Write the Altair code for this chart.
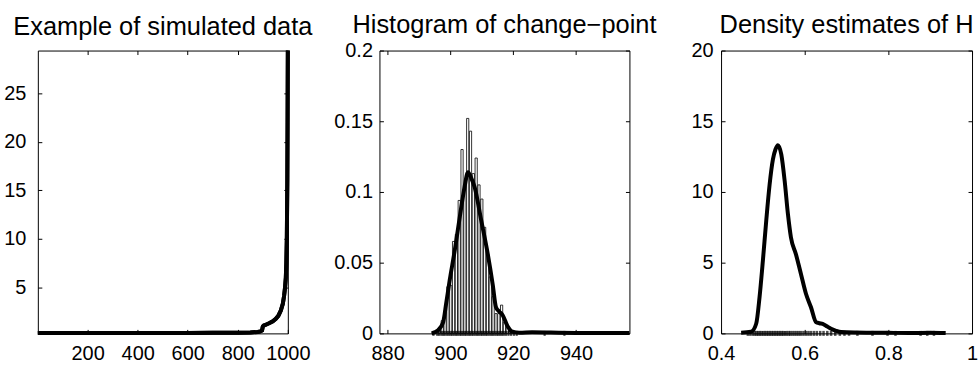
import altair as alt
import pandas as pd

FONT = "Liberation Sans"

# ---------- Panel 1: simulated data ----------
sim_x = [1, 100, 200, 300, 400, 500, 600, 700, 800, 850, 880, 890, 897, 900, 903,
         910, 925, 940, 952, 962, 972, 980, 985, 989, 992, 994, 996, 998, 999, 1000]
sim_y = [0.30, 0.30, 0.30, 0.30, 0.30, 0.30, 0.30, 0.31, 0.32, 0.35, 0.40, 0.45, 0.55, 0.95, 1.05,
         1.12, 1.30, 1.50, 1.75, 2.05, 2.60, 3.30, 4.10, 5.00, 6.00, 7.50, 10.0, 16.0, 22.0, 29.4]
p1_xticks = [200, 400, 600, 800, 1000]
p1_yticks = [5, 10, 15, 20, 25]

# ---------- Panel 2: histogram of change-point ----------
hist_center = [896.5, 897.4, 898.3, 899.2, 900.1, 901.0, 901.9, 902.8, 903.7, 904.6,
               905.5, 906.4, 907.3, 908.2, 909.1, 910.0, 910.9, 911.8, 912.7, 913.6,
               914.5, 915.4, 916.3, 917.2, 918.1, 919.0, 919.9]
hist_height = [0.004, 0.009, 0.016, 0.033, 0.034, 0.065, 0.070, 0.094, 0.130, 0.104,
               0.152, 0.143, 0.113, 0.124, 0.105, 0.095, 0.075, 0.056, 0.040, 0.026,
               0.014, 0.014, 0.020, 0.008, 0.004, 0.003, 0.002]
kde2_x = [894.0, 896.1, 897.7, 898.7, 899.8, 901.4, 903.0, 904.5, 905.6, 906.6, 907.7,
          909.8, 911.9, 913.5, 914.5, 915.5, 916.6, 918.2, 919.7, 922.0, 926.0, 932.0,
          940.0, 950.0, 957.0]
kde2_y = [0.0, 0.0023, 0.008, 0.022, 0.038, 0.059, 0.0826, 0.1035, 0.114, 0.110, 0.1035,
          0.080, 0.056, 0.034, 0.0185, 0.0155, 0.013, 0.005, 0.0012, 0.0005, 0.0008, 0.0006,
          0.0003, 0.0002, 0.0002]
rug2 = [894.6, 895.8, 896.4, 897.1, 897.7, 898.2, 898.9, 899.5, 900.1, 900.6, 901.2, 901.8,
        902.3, 902.9, 903.4, 904.0, 904.6, 905.1, 905.7, 906.2, 906.8, 907.3, 907.9, 908.5,
        909.0, 909.6, 910.1, 910.7, 911.3, 911.8, 912.4, 913.0, 913.5, 914.1, 914.7, 915.2,
        915.8, 916.4, 917.0, 917.7, 918.5, 919.3, 920.2, 921.1, 930.0, 936.3]
p2_xticks = [880, 900, 920, 940]
p2_yticks = [0, 0.05, 0.1, 0.15, 0.2]

# ---------- Panel 3: density estimates of H ----------
kde3_x = [0.448, 0.472, 0.484, 0.492, 0.500, 0.508, 0.516, 0.524, 0.530, 0.536, 0.544,
          0.552, 0.560, 0.567, 0.579, 0.591, 0.603, 0.615, 0.627, 0.635, 0.643, 0.653,
          0.663, 0.675, 0.687, 0.720, 0.760, 0.800, 0.850, 0.900, 0.937]
kde3_y = [0.05, 0.12, 0.68, 2.56, 5.14, 7.96, 10.5, 12.3, 13.0, 13.3, 12.65,
          10.8, 8.4, 6.8, 5.6, 4.2, 2.8, 1.85, 0.80, 0.72, 0.68, 0.50,
          0.33, 0.18, 0.09, 0.06, 0.05, 0.04, 0.03, 0.04, 0.02]
rug3 = [0.464, 0.470, 0.476, 0.481, 0.485, 0.489, 0.493, 0.497, 0.501, 0.505, 0.509,
        0.513, 0.517, 0.521, 0.525, 0.529, 0.533, 0.537, 0.541, 0.545, 0.549, 0.553,
        0.557, 0.562, 0.566, 0.571, 0.576, 0.581, 0.586, 0.591, 0.597, 0.603, 0.609,
        0.615, 0.622, 0.629, 0.637, 0.645, 0.654, 0.663, 0.673, 0.684, 0.695, 0.706,
        0.726, 0.762, 0.798, 0.817, 0.877, 0.893, 0.909]
p3_xticks = [0.4, 0.6, 0.8, 1]
p3_yticks = [0, 5, 10, 15, 20]

TICK = 4


def axis_main(orient, values, pad):
    return alt.Axis(orient=orient, values=values, format="~f", title=None, grid=False,
                    domain=False, ticks=True, tickSize=TICK, tickColor="black", tickWidth=1,
                    offset=-TICK, labelPadding=pad, labelFont=FONT, labelFontSize=20,
                    labelColor="black", labelFlush=False, labelOverlap=False,
                    minExtent=0)


def axis_mirror(orient, values):
    return alt.Axis(orient=orient, values=values, title=None, grid=False, domain=False,
                    labels=False, ticks=True, tickSize=TICK, tickColor="black", tickWidth=1,
                    offset=-TICK, minExtent=0, maxExtent=0)


def title(text):
    return alt.TitleParams(text=text, font=FONT, fontSize=25.5, fontWeight="normal",
                           color="black", anchor="middle", baseline="alphabetic", offset=-18)


# Panel 1
df1 = pd.DataFrame({"x": sim_x, "y": sim_y})
xs1 = alt.Scale(domain=[1, 1000], nice=False, zero=False)
ys1 = alt.Scale(domain=[0.25, 29.4], nice=False, zero=False)
l1a = alt.Chart(df1).mark_line(color="black", strokeWidth=4).encode(
    x=alt.X("x:Q", scale=xs1, axis=axis_main("bottom", p1_xticks, 10)),
    y=alt.Y("y:Q", scale=ys1, axis=axis_main("left", p1_yticks, 12)),
)
l1b = alt.Chart(df1).mark_line(color="black", strokeWidth=4).encode(
    x=alt.X("x:Q", scale=xs1, axis=axis_mirror("top", p1_xticks)),
    y=alt.Y("y:Q", scale=ys1, axis=axis_mirror("right", p1_yticks)),
)
p1 = alt.layer(l1a, l1b).resolve_axis(x="independent", y="independent").properties(
    width=251, height=284, title=title("Example of simulated data"))

# Panel 2
dfh = pd.DataFrame({"c": hist_center, "h": hist_height})
dfk2 = pd.DataFrame({"x": kde2_x, "y": kde2_y})
dfr2 = pd.DataFrame({"x": rug2})
xs2 = alt.Scale(domain=[877.4, 957], nice=False, zero=False)
ys2 = alt.Scale(domain=[0, 0.2], nice=False, zero=False)
bars = alt.Chart(dfh).transform_calculate(
    a="datum.c - 0.35", b="datum.c + 0.35"
).mark_bar(fill="white", stroke="black", strokeWidth=0.8).encode(
    x=alt.X("a:Q", scale=xs2, axis=axis_main("bottom", p2_xticks, 10)),
    x2="b:Q",
    y=alt.Y("h:Q", scale=ys2, axis=axis_main("left", p2_yticks, 7)),
    y2=alt.datum(0),
)
rugm2 = alt.Chart(dfr2).mark_tick(color="black", orient="vertical", size=5, thickness=2.2).encode(
    x=alt.X("x:Q", scale=xs2, axis=axis_mirror("top", p2_xticks)),
    y=alt.Y("zero:Q", scale=ys2, axis=axis_mirror("right", p2_yticks)),
).transform_calculate(zero="0")
k2 = alt.Chart(dfk2).mark_line(color="black", strokeWidth=4, interpolate="monotone").encode(
    x=alt.X("x:Q", scale=xs2, axis=None),
    y=alt.Y("y:Q", scale=ys2, axis=None),
)
p2 = alt.layer(bars, rugm2, k2).resolve_axis(x="independent", y="independent").properties(
    width=251, height=284, title=title("Histogram of change\u2212point"))

# Panel 3
dfk3 = pd.DataFrame({"x": kde3_x, "y": kde3_y})
dfr3 = pd.DataFrame({"x": rug3})
xs3 = alt.Scale(domain=[0.4, 1], nice=False, zero=False)
ys3 = alt.Scale(domain=[0, 20], nice=False, zero=False)
k3 = alt.Chart(dfk3).mark_line(color="black", strokeWidth=4, interpolate="monotone").encode(
    x=alt.X("x:Q", scale=xs3, axis=axis_main("bottom", p3_xticks, 10)),
    y=alt.Y("y:Q", scale=ys3, axis=axis_main("left", p3_yticks, 8)),
)
rugm3 = alt.Chart(dfr3).mark_tick(color="black", orient="vertical", size=5, thickness=2.5).encode(
    x=alt.X("x:Q", scale=xs3, axis=axis_mirror("top", p3_xticks)),
    y=alt.Y("zero:Q", scale=ys3, axis=axis_mirror("right", p3_yticks)),
).transform_calculate(zero="0")
p3 = alt.layer(k3, rugm3).resolve_axis(x="independent", y="independent").properties(
    width=252, height=284, title=title("Density estimates of H"))

chart = alt.hconcat(p1, p2, p3, spacing=92, bounds="flush").properties(
    padding={"left": 3, "top": 12, "right": 0, "bottom": 0},
    autosize=alt.AutoSizeParams(type="pad"),
    background="white",
).configure_view(stroke="black", strokeWidth=1)

chart.save("out.html", embed_options={"renderer": "svg", "actions": False})
